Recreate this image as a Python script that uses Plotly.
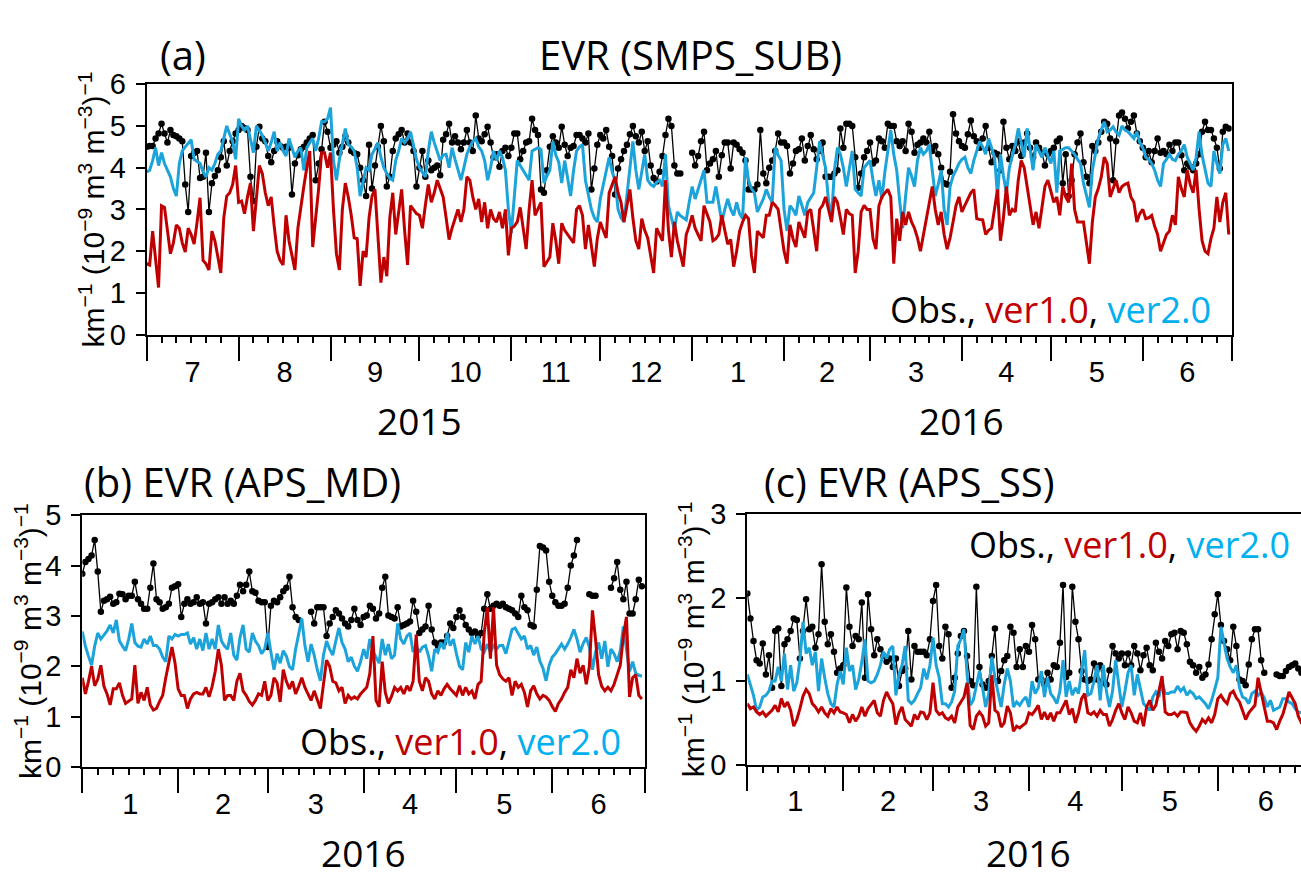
import plotly.graph_objects as go
import pandas as pd

W, H = 1301, 885

# ---------------- data (daily values) ----------------
# Panel (a): 2015-07-01 .. 2016-06-30
start_a = "2015-07-01"
obs_a = [
    4.5, 4.52, 4.52, 4.7, 4.82, 5.05, 4.82, 4.6, 4.9, 4.78,
    4.75, 4.7, 4.63, 3.6, 2.94, 4.28, 4.35, 4.4, 3.75, 3.78,
    4.36, 2.94, 3.63, 3.8, 3.94, 4.25, 4.63, 4.05, 4.4, 4.63,
    4.82, 4.9, 5.0, 4.95, 4.9, 3.78, 3.2, 4.5, 4.98, 4.7,
    4.63, 4.28, 4.13, 4.4, 4.63, 4.52, 4.48, 4.5, 4.48, 3.36,
    4.1, 4.3, 4.44, 4.5, 4.6, 4.7, 4.78, 3.7, 4.1, 4.44,
    5.1, 4.86, 4.48, 4.55, 4.63, 4.36, 4.5, 4.75, 4.6, 4.4,
    4.35, 4.32, 4.0, 3.7, 3.32, 4.55, 3.5, 4.05, 4.5, 5.0,
    4.63, 3.55, 3.78, 4.4, 4.7, 4.8, 4.9, 4.6, 4.82, 4.6,
    4.4, 3.55, 4.0, 4.4, 3.78, 4.17, 3.94, 4.0, 4.05, 3.82,
    4.67, 4.8, 5.05, 4.6, 4.75, 4.6, 4.44, 4.6, 4.9, 4.6,
    4.4, 5.25, 4.7, 4.63, 4.8, 4.98, 4.6, 4.25, 4.32, 4.02,
    4.4, 4.48, 4.28, 4.48, 4.82, 4.82, 4.2, 4.4, 4.6, 4.63,
    5.17, 4.9, 4.78, 3.48, 3.4, 3.94, 4.5, 4.75, 4.6, 4.48,
    4.98, 4.55, 4.28, 4.48, 4.52, 4.78, 4.78, 4.7, 4.6, 4.82,
    3.48, 3.98, 4.55, 4.78, 4.7, 4.9, 4.5, 4.28, 3.36, 3.98,
    4.2, 4.4, 4.55, 4.8, 5.0, 4.75, 4.6, 4.86, 4.4, 4.63,
    4.05, 3.75, 3.67, 3.9, 4.28, 4.78, 5.17, 5.0, 4.05, 3.86,
    3.86, None, None, None, 4.36, 4.05, 4.28, 4.63, 4.86, 3.94,
    4.1, 4.2, 4.4, 3.78, 4.3, 4.6, 4.6, 3.98, 4.6, 4.55,
    4.44, 4.36, 4.17, 3.48, 3.48, 3.48, 3.6, 4.9, 3.86, 3.63,
    4.0, 4.17, 4.4, 4.82, 4.6, 4.6, 4.52, 3.86, 4.1, 4.4,
    4.44, 4.7, 4.17, 4.52, 4.78, 4.44, 4.2, 4.4, 4.6, 3.78,
    3.78, 3.78, 3.86, 3.94, 4.94, 4.48, 5.05, 5.05, 5.0, 4.25,
    3.52, 3.86, 4.25, 4.4, 4.6, 4.1, 4.17, 4.7, 4.63, 4.48,
    5.05, 5.0, 5.0, 4.63, 4.52, 4.63, 4.4, 5.05, 4.86, 4.36,
    4.55, 4.6, 4.7, 4.6, 4.86, 4.4, 4.52, 4.32, 4.0, 3.63,
    3.6, 3.9, 5.28, 4.82, 4.63, 4.52, 4.48, 4.8, 5.13, 4.75,
    4.63, 4.48, 4.7, 5.0, 4.48, 4.13, 4.36, 4.32, 3.94, 5.1,
    4.48, 4.2, 4.52, 4.4, 4.63, 4.28, 4.6, 4.82, 4.48, 4.25,
    4.6, 4.48, 4.36, 4.05, 4.32, 4.4, 4.48, 4.63, 4.7, 3.63,
    4.32, 3.32, 3.7, 4.32, 4.6, 4.82, 4.13, 3.78, 3.63, 4.52,
    4.4, 4.6, 4.86, 5.1, 5.05, 4.7, 3.7, 4.63, 5.25, 5.32,
    5.17, 4.94, 5.1, 5.25, 4.82, 4.63, 4.48, 4.25, 4.4, 4.13,
    4.4, 4.7, 4.36, 4.4, 4.32, 4.55, 4.4, 4.6, 4.6, 4.3,
    3.94, 4.1, 4.02, 3.94, 4.1, 4.32, 4.86, 5.1, 4.9, 4.9,
    4.7, 4.48, 3.98, 4.86, 4.98, 4.94,
]
v1_a = [
    1.7, 1.67, 2.48, 1.8, 1.13, 3.09, 3.05, 2.5, 1.94, 2.2,
    2.63, 2.55, 2.2, 1.98, 2.55, 2.4, 2.17, 2.7, 3.28, 1.78,
    1.7, 1.55, 2.48, 2.25, 1.9, 1.48, 2.8, 3.32, 3.4, 3.6,
    4.05, 3.17, 3.2, 2.9, 3.3, 3.63, 2.48, 3.2, 4.05, 3.86,
    3.4, 3.09, 3.3, 2.6, 2.0, 1.78, 1.67, 2.86, 2.25, 1.9,
    1.55, 2.55, 3.1, 3.55, 4.0, 4.4, 2.1, 2.78, 3.5, 4.36,
    4.36, 4.0, 4.36, 3.0, 1.94, 1.55, 3.0, 3.63, 3.3, 2.86,
    2.32, 2.3, 1.17, 2.0, 1.86, 2.8, 3.32, 3.48, 2.3, 1.25,
    1.86, 1.4, 2.8, 3.4, 2.4, 3.0, 3.48, 2.5, 1.67, 3.09,
    3.0, 2.9, 2.86, 2.55, 3.1, 3.6, 3.17, 3.4, 3.7, 3.5,
    3.3, 2.8, 2.28, 2.55, 2.8, 3.0, 2.7, 3.0, 3.78, 3.7,
    3.3, 3.0, 3.25, 2.7, 3.17, 2.55, 3.0, 2.78, 2.7, 2.94,
    2.55, 3.0, 1.9, 2.55, 2.6, 2.7, 3.05, 2.6, 2.05, 3.0,
    3.7, 2.86, 3.0, 3.17, 1.63, 1.75, 1.86, 2.67, 2.25, 1.7,
    2.67, 2.5, 2.4, 2.3, 2.2, 3.0, 3.09, 2.86, 2.05, 2.63,
    2.1, 1.63, 2.3, 2.7, 2.5, 2.32, 3.4, 3.6, 3.78, 3.4,
    3.17, 2.7, 3.1, 3.48, 2.8, 2.25, 2.05, 2.78, 2.5, 2.32,
    1.9, 1.48, 2.55, 2.4, 2.25, 3.7, 2.5, 1.86, 2.7, 2.25,
    1.9, 1.63, 2.4, 2.6, 2.86, 2.55, 2.4, 2.25, 3.09, 2.9,
    2.7, 2.25, 2.3, 2.4, 2.86, 2.5, 2.17, 2.28, 1.63, 2.0,
    2.48, 2.7, 2.86, 2.78, 1.9, 1.48, 2.48, 2.4, 2.32, 2.86,
    2.86, 3.17, 3.1, 3.0, 2.55, 2.0, 1.7, 2.63, 2.3, 2.1,
    2.7, 2.5, 2.32, 2.94, 3.0, 2.5, 2.0, 3.0, 3.1, 3.3,
    3.0, 2.7, 3.3, 3.17, 2.8, 2.4, 3.0, 2.9, 2.86, 1.48,
    2.0, 2.94, 3.1, 3.0, 3.0, 2.3, 2.05, 3.09, 3.3, 3.4,
    3.48, 3.3, 1.7, 2.78, 2.25, 2.94, 2.63, 2.94, 2.7, 2.55,
    2.32, 2.0, 2.4, 2.78, 3.17, 3.55, 3.0, 2.63, 2.94, 2.4,
    2.05, 2.32, 2.7, 3.09, 3.3, 2.94, 3.1, 3.25, 3.4, 3.48,
    2.78, 2.76, 2.75, 2.4, 2.5, 2.55, 3.0, 3.48, 2.25, 2.8,
    3.55, 2.86, 3.0, 2.94, 3.7, 4.17, 4.0, 3.5, 3.09, 2.63,
    2.94, 2.55, 3.0, 3.55, 3.7, 3.4, 3.17, 3.3, 2.86, 3.55,
    3.3, 3.17, 4.1, 3.0, 2.7, 2.7, 2.7, 2.2, 1.7, 2.7,
    3.3, 3.5, 3.78, 4.25, 4.1, 3.3, 3.5, 3.7, 3.4, 3.55,
    3.6, 3.63, 3.3, 3.17, 2.7, 2.9, 3.0, 2.78, 2.8, 2.86,
    2.6, 2.4, 2.0, 2.2, 2.4, 2.48, 2.86, 2.63, 3.78, 3.5,
    3.3, 3.94, 3.6, 3.4, 3.94, 3.0, 2.25, 2.0, 1.94, 2.3,
    2.55, 3.3, 2.7, 3.17, 3.4, 2.4,
]
v2_a = [
    3.9, 3.94, 4.17, 4.48, 4.05, 4.36, 4.1, 3.94, 3.78, 3.5,
    3.32, 4.1, 4.4, 4.5, 4.6, 4.67, 4.2, 4.15, 4.1, 3.9,
    3.78, 4.0, 3.94, 4.1, 4.32, 4.4, 4.7, 5.0, 4.8, 4.63,
    4.2, 5.17, 5.0, 4.9, 5.0, 4.7, 4.36, 5.0, 4.9, 4.78,
    4.6, 4.4, 4.6, 4.86, 4.4, 4.6, 4.4, 4.28, 4.7, 4.5,
    4.25, 4.4, 4.48, 3.94, 4.48, 4.6, 4.7, 4.4, 4.7, 5.1,
    5.1, 5.17, 5.44, 4.17, 3.7, 4.2, 4.55, 4.94, 4.55, 4.5,
    4.4, 4.0, 3.32, 3.7, 4.0, 3.94, 4.32, 4.45, 4.6, 4.25,
    4.0, 3.86, 3.75, 3.7, 4.17, 4.4, 4.7, 4.6, 4.7, 4.86,
    4.5, 4.2, 4.0, 3.9, 3.78, 4.4, 4.86, 4.6, 4.4, 4.17,
    4.3, 4.32, 4.0, 4.48, 4.2, 3.94, 3.7, 4.0, 4.32, 4.5,
    4.63, 4.7, 4.5, 4.4, 4.17, 3.7, 4.0, 4.4, 4.17, 4.4,
    4.25, 3.94, 3.0, 2.44, 3.32, 4.17, 4.05, 3.94, 3.8, 3.7,
    4.4, 4.45, 4.48, 4.44, 3.63, 3.8, 3.94, 4.63, 4.3, 4.13,
    3.63, 4.17, 3.7, 3.32, 3.94, 4.4, 4.5, 4.55, 3.7, 3.3,
    3.0, 2.8, 2.7, 3.25, 3.6, 3.94, 4.25, 3.9, 3.7, 3.0,
    2.8, 2.7, 3.32, 4.0, 4.63, 3.94, 3.48, 3.9, 4.32, 3.7,
    3.6, 3.55, 3.65, 3.7, 3.55, 4.32, 3.09, 2.8, 2.52, 2.94,
    2.85, 2.8, 2.75, 3.17, 3.55, 3.25, 3.5, 3.7, 3.94, 3.17,
    3.17, 3.17, 3.55, 3.1, 2.7, 3.0, 3.25, 3.0, 2.86, 3.17,
    2.9, 2.78, 4.25, 3.7, 3.5, 3.4, 2.94, 3.1, 3.25, 3.48,
    3.3, 3.17, 4.48, 4.3, 4.17, 3.0, 2.48, 3.09, 3.0, 2.86,
    3.32, 3.1, 2.86, 3.17, 3.3, 3.4, 4.0, 4.63, 4.3, 4.0,
    3.2, 2.78, 3.94, 4.48, 4.32, 4.0, 3.55, 4.0, 4.4, 3.48,
    3.4, 3.32, 4.0, 4.1, 4.17, 3.7, 3.32, 3.7, 3.25, 3.9,
    4.4, 4.9, 4.32, 3.94, 3.2, 2.55, 3.32, 4.0, 3.8, 3.55,
    4.17, 4.48, 4.32, 4.4, 4.55, 4.0, 3.32, 3.6, 3.94, 3.0,
    2.63, 3.55, 3.8, 3.94, 4.1, 4.2, 4.25, 4.0, 3.86, 4.17,
    4.4, 4.63, 4.5, 4.32, 4.7, 4.5, 4.25, 3.32, 4.32, 3.8,
    3.4, 4.0, 4.3, 4.55, 4.94, 4.6, 4.25, 4.94, 4.4, 3.94,
    4.55, 4.4, 4.25, 4.48, 4.3, 4.1, 4.4, 3.4, 4.4, 4.45,
    4.48, 4.48, 4.4, 4.32, 4.2, 4.1, 3.63, 3.3, 3.05, 3.94,
    4.3, 4.7, 4.9, 5.1, 4.86, 4.9, 4.98, 4.85, 4.78, 5.0,
    4.9, 4.86, 4.78, 4.7, 4.86, 4.6, 4.48, 4.25, 4.2, 4.1,
    3.94, 3.7, 3.55, 4.1, 4.2, 4.32, 4.2, 4.17, 4.32, 4.4,
    4.55, 4.25, 4.1, 3.94, 4.25, 4.86, 4.3, 3.94, 3.63, 3.55,
    4.4, 4.1, 3.86, 4.55, 4.7, 4.4,
]

# Panel (b): 2016-01-01 .. 2016-06-30
start_b = "2016-01-01"
obs_b = [
    3.84, 4.07, 4.13, 4.2, 4.51, 3.88, 3.08, 3.3, 3.33, 3.38,
    3.24, 3.27, 3.44, 3.43, 3.33, 3.4, 3.4, 3.68, 3.33, 3.24,
    3.14, 3.14, 3.56, 4.04, 3.33, 3.27, 3.14, 3.17, 3.24, 3.56,
    3.59, 3.63, 2.98, 3.24, 3.33, 3.24, 3.27, 3.37, 3.24, 3.27,
    2.85, 3.24, 3.27, 3.33, 3.37, 3.24, 3.37, 3.24, 3.3, 3.24,
    3.4, 3.62, 3.49, 3.62, 3.88, 3.49, 3.46, 3.3, 3.27, 3.27,
    2.38, 3.2, 3.3, 3.27, 3.37, 3.49, 3.56, 3.78, 3.17, 2.98,
    2.92, None, None, None, 3.08, 2.85, 3.17, 3.17, 3.17, 2.6,
    2.85, 2.98, 3.11, 3.05, 2.95, 2.85, 2.79, 2.92, 3.14, 2.92,
    2.82, 2.98, 3.01, 3.2, 3.14, 2.95, 3.05, 3.56, 3.78, 3.01,
    2.98, 2.95, 3.17, 2.79, 2.82, 2.85, 2.89, 3.3, 3.08, 2.66,
    2.73, 2.79, 3.2, 2.73, 2.47, 2.41, 2.47, 2.47, 2.6, 2.85,
    2.76, 2.98, 3.11, 2.98, 2.82, 2.73, 2.66, 2.69, 2.6, 2.66,
    3.14, 3.43, 3.14, 3.2, 3.24, 3.2, 3.24, 3.17, 3.14, 3.11,
    3.05, 2.98, 3.4, 3.17, 3.11, 2.82, 2.79, 3.52, 4.39, 4.36,
    4.3, 3.68, 3.4, 3.27, 3.2, 3.2, 3.24, 3.56, 4.0, 4.2,
    4.51, None, None, None, 3.43, 3.4, 3.4, None, None, None,
    None, 3.56, 3.75, 4.07, 3.52, 3.33, 3.68, 3.05, 3.05, 3.33,
    3.72, 3.59,
]
v1_b = [
    1.77, 1.45, 1.7, 2.0, 1.61, 1.74, 2.02, 1.6, 1.45, 1.23,
    1.55, 1.55, 1.67, 1.42, 1.26, 1.3, 1.35, 2.02, 1.26, 1.48,
    1.32, 1.58, 1.23, 1.13, 1.16, 1.3, 1.42, 1.77, 2.1, 2.38,
    2.06, 1.55, 1.42, 1.42, 1.16, 1.35, 1.45, 1.48, 1.45, 1.45,
    1.58, 1.39, 1.6, 1.9, 2.34, 2.02, 1.32, 1.42, 1.42, 1.32,
    1.7, 1.86, 1.51, 1.42, 1.3, 1.23, 1.32, 1.45, 1.42, 1.7,
    1.32, 1.42, 1.77, 1.67, 1.29, 1.93, 1.7, 1.55, 1.7, 1.45,
    1.6, 1.77, 1.58, 1.45, 1.32, 1.51, 1.32, 1.16, 1.64, 2.12,
    2.0, 1.7, 1.67, 1.51, 1.58, 1.26, 1.42, 1.35, 1.39, 1.35,
    1.45, 1.51, 1.58, 1.86, 2.6, 1.32, 1.19, 2.09, 1.48, 1.26,
    1.4, 1.58, 1.51, 1.58, 1.45, 1.61, 1.51, 1.7, 2.63, 1.7,
    1.51, 1.77, 1.7, 1.45, 1.35, 1.51, 1.42, 1.55, 1.64, 1.55,
    1.48, 1.42, 1.61, 1.42, 1.58, 1.45, 1.51, 1.35, 1.64, 1.7,
    2.66, 3.17, 2.15, 3.17, 2.02, 1.83, 1.75, 1.7, 1.77, 1.42,
    1.7, 1.58, 1.64, 1.48, 1.19, 1.51, 1.61, 1.45, 1.35, 1.42,
    1.39, 1.32, 1.2, 1.1, 1.26, 1.35, 1.48, 1.58, 1.93, 1.77,
    2.15, 1.86, 2.02, 1.64, 1.99, 3.11, 2.54, 1.83, 1.6, 1.51,
    1.58, 1.51, 1.64, 1.83, 2.02, 2.6, 2.98, 1.39, 1.77, 1.83,
    1.42, 1.35,
]
v2_b = [
    2.69, 2.4, 2.2, 2.02, 2.4, 2.66, 2.54, 2.63, 2.7, 2.82,
    2.66, 2.92, 2.5, 2.4, 2.31, 2.54, 2.85, 2.47, 2.4, 2.38,
    2.54, 2.44, 2.6, 2.41, 2.41, 2.34, 2.18, 2.09, 2.6, 2.54,
    2.63, 2.6, 2.63, 2.63, 2.66, 2.44, 2.57, 2.34, 2.54, 2.31,
    2.66, 2.34, 2.54, 2.34, 2.82, 2.5, 2.4, 2.34, 2.66, 2.22,
    2.12, 2.57, 2.82, 2.34, 2.28, 2.66, 2.5, 2.41, 2.25, 2.34,
    2.66, 2.28, 1.93, 2.25, 2.06, 2.31, 2.2, 1.99, 1.93, 2.34,
    2.66, 2.95, 2.41, 2.09, 2.44, 2.22, 1.93, 1.71, 2.22, 2.5,
    2.34, 2.22, 2.5, 2.76, 2.47, 2.34, 2.09, 2.18, 2.0, 1.9,
    2.09, 2.34, 2.15, 2.54, 2.3, 2.18, 2.06, 2.54, 2.22, 2.44,
    2.15, 2.22, 2.85, 2.54, 2.44, 2.6, 2.66, 2.28, 2.41, 2.28,
    2.38, 2.41, 2.2, 1.9, 2.34, 2.28, 2.47, 2.34, 2.66, 2.41,
    2.54, 2.25, 2.0, 1.93, 2.47, 2.28, 2.6, 2.44, 2.6, 2.34,
    2.28, 2.44, 2.28, 2.41, 2.34, 2.41, 2.41, 2.25, 2.47, 2.73,
    2.76, 2.66, 2.54, 2.6, 2.34, 2.41, 2.22, 2.38, 2.1, 1.96,
    1.71, 2.02, 2.18, 2.25, 2.34, 2.44, 2.34, 2.44, 2.57, 2.73,
    2.54, 2.28, 2.45, 2.57, 2.38, 1.93, 2.28, 2.47, 2.15, 2.5,
    1.99, 2.34, 2.25, 2.09, 2.31, 2.79, 2.34, 1.9, 2.09, 1.86,
    1.82, 1.8,
]

# Panel (c): 2016-01-01 .. 2016-06-30 (picture is cut at the right edge)
start_c = "2016-01-01"
obs_c = [
    2.05, 1.75, 1.48, 1.25, 1.21, 1.45, 1.08, 1.31, 0.92, 1.6,
    1.63, 0.94, 1.44, 1.5, 1.6, 1.75, 1.73, 1.27, 1.6, 1.98,
    1.62, 1.65, 1.4, 1.56, 2.4, 1.71, 1.44, 1.56, 1.35, 1.1,
    1.15, 1.19, 2.12, 1.65, 1.42, 1.54, 1.5, 1.94, 1.04, 2.04,
    1.62, 1.31, 1.5, 1.38, 1.3, 1.23, 1.27, 1.17, 1.27, 0.94,
    1.12, 1.15, 1.6, 1.02, 1.42, 1.35, 1.35, 1.35, 1.31, 1.5,
    1.96, 2.15, 1.42, 1.27, 1.65, 1.56, 0.92, 1.04, 1.33, 1.54,
    1.6, 1.3, 1.0, 0.95, 2.13, 1.17, 0.96, 0.92, 1.0, 1.3,
    1.63, 1.0, 1.12, 1.25, 1.3, 1.65, 1.58, 1.17, 1.38, 1.17,
    1.42, 1.35, 1.67, 1.5, 1.02, 1.02, 0.96, 1.1, 1.02, 1.19,
    1.17, 1.46, 2.15, 1.05, 1.1, 2.13, 1.71, 1.5, 1.12, 1.02,
    1.0, 1.02, 1.21, 1.02, 1.19, 1.0, 0.96, 1.13, 1.42, 1.33,
    1.27, 1.33, 1.19, 1.33, 1.19, 1.42, 1.33, 1.13, 1.31, 1.4,
    1.19, 1.13, 1.46, 1.35, 1.27, 1.48, 1.42, 1.56, 1.58, 1.38,
    1.6, 1.58, 1.44, 1.23, 1.19, 1.1, 1.17, 1.04, 1.08, 1.2,
    1.5, 1.8, 2.04, 1.67, 1.48, 1.38, 1.25, 1.65, 1.42, 1.02,
    1.0, 0.95, 1.2, 1.5, 1.62, 1.62, 1.25, 1.1, None, None,
    None, 1.08, 1.06, 1.06, 1.12, 1.17, 1.19, 1.21, 1.15, 1.1,
    1.1, 1.1,
]
v1_c = [
    0.73, 0.67, 0.69, 0.63, 0.6, 0.63, 0.58, 0.62, 0.65, 0.71,
    0.63, 0.79, 0.69, 0.75, 0.65, 0.46, 0.54, 0.67, 0.82, 0.9,
    0.85, 0.73, 0.69, 0.63, 0.69, 0.62, 0.58, 0.67, 0.62, 0.69,
    0.63, 0.62, 0.6, 0.5, 0.6, 0.52, 0.58, 0.69, 0.58, 0.67,
    0.72, 0.77, 0.62, 0.58, 0.77, 0.87, 0.79, 0.73, 0.48, 0.62,
    0.69, 0.54, 0.5, 0.46, 0.6, 0.54, 0.63, 0.62, 0.54, 0.62,
    0.98, 0.65, 0.6, 0.62, 0.56, 0.54, 0.58, 0.5, 0.69, 0.75,
    0.81, 0.98, 0.47, 0.42, 0.58, 0.63, 0.58, 0.46, 0.5, 1.07,
    0.65, 0.62, 0.45, 0.5, 0.7, 0.62, 0.4, 0.46, 0.44, 0.47,
    0.5, 0.62, 0.6, 0.65, 0.71, 0.54, 0.63, 0.54, 0.62, 0.52,
    0.62, 0.62, 0.69, 0.77, 0.6, 0.67, 0.5, 0.62, 0.79, 0.85,
    0.62, 0.6, 0.63, 0.58, 0.65, 0.6, 0.6, 0.46, 0.54, 0.65,
    0.73, 0.62, 0.54, 0.69, 0.62, 0.52, 0.5, 0.62, 0.46, 0.69,
    0.77, 0.65, 0.71, 0.9, 1.06, 0.63, 0.6, 0.6, 0.62, 0.58,
    0.63, 0.63, 0.62, 0.5, 0.44, 0.4, 0.46, 0.54, 0.5, 0.56,
    0.5, 0.6, 0.79, 0.83, 0.77, 0.73, 0.85, 0.88, 0.8, 0.75,
    0.63, 0.54, 0.62, 0.67, 0.71, 1.04, 0.88, 0.69, 0.52, 0.52,
    0.5, 0.42, 0.52, 0.6, 0.73, 0.87, 0.8, 0.73, 0.58, 0.5,
    0.5, 0.5,
]
v2_c = [
    1.08, 0.95, 0.83, 0.65, 0.69, 0.81, 0.83, 0.88, 1.0, 1.0,
    1.17, 1.0, 1.33, 0.9, 1.19, 0.88, 0.98, 1.25, 1.71, 1.33,
    1.4, 1.19, 1.35, 0.88, 1.27, 1.04, 0.85, 0.73, 0.69, 0.96,
    1.12, 0.96, 1.4, 1.12, 1.19, 0.9, 1.02, 1.23, 1.5, 1.0,
    0.98, 1.0, 1.08, 1.19, 1.35, 1.27, 1.38, 1.42, 0.83, 1.08,
    1.19, 1.42, 0.77, 0.73, 0.77, 0.85, 0.92, 1.15, 1.02, 1.19,
    1.52, 1.19, 1.04, 0.73, 0.73, 0.69, 0.75, 0.88, 1.42, 1.5,
    1.62, 1.08, 0.71, 0.77, 0.96, 1.12, 0.92, 0.69, 0.85, 1.29,
    1.04, 0.85, 0.69, 0.96, 1.15, 1.0, 0.69, 0.75, 0.71, 0.77,
    0.81, 0.69, 1.0, 0.85, 0.92, 1.12, 0.81, 1.04, 0.85, 0.8,
    0.73, 0.88, 1.25, 0.81, 1.0, 0.83, 0.92, 0.85, 1.1, 1.37,
    0.83, 0.85, 1.0, 1.19, 0.77, 1.19, 0.88, 0.69, 0.88, 1.25,
    0.96, 0.69, 0.88, 1.1, 1.19, 0.83, 1.08, 0.9, 0.73, 0.69,
    0.65, 0.81, 0.87, 0.81, 1.0, 0.85, 0.85, 0.87, 0.87, 0.94,
    0.88, 0.92, 0.83, 0.88, 0.85, 0.79, 0.81, 0.77, 0.73, 0.67,
    0.77, 0.9, 1.04, 1.65, 1.46, 1.27, 1.17, 1.1, 1.19, 0.92,
    0.81, 0.79, 0.73, 0.85, 0.88, 0.83, 0.87, 0.8, 0.69, 0.77,
    0.65, 0.67, 0.69, 0.79, 0.79, 0.75, 0.73, 0.67, 0.63, 0.62,
    0.62, 0.62,
]

# ---------------- styling ----------------
RED = "#C00000"
BLUE_LINE = "#1CA3DA"
BLUE_TEXT = "#00B0F0"
TICK_FONT = dict(family="Liberation Sans, Arial, sans-serif", size=29, color="black")
TEXT_FONT = "Open Sans, Lato, sans-serif"


def px(x):
    return x / W


def py(y):
    return 1 - y / H


def dates(start, n):
    return pd.date_range(start, periods=n, freq="D")


def minor_ticks(start, end):
    vals = []
    for m in pd.date_range(start, end, freq="MS"):
        for d in (5, 10, 15, 20, 25):
            vals.append(m + pd.Timedelta(days=d))
    return vals


fig = go.Figure()

panels = [
    ("x", "y", start_a, obs_a, v1_a, v2_a),
    ("x2", "y2", start_b, obs_b, v1_b, v2_b),
    ("x3", "y3", start_c, obs_c, v1_c, v2_c),
]
for xa, ya, st, obs, v1, v2 in panels:
    fig.add_trace(go.Scatter(x=dates(st, len(obs)), y=obs, mode="lines+markers",
                             line=dict(color="black", width=1.3),
                             marker=dict(color="black", size=6.5),
                             xaxis=xa, yaxis=ya, showlegend=False, hoverinfo="skip"))
    fig.add_trace(go.Scatter(x=dates(st, len(v2)), y=v2, mode="lines",
                             line=dict(color=BLUE_LINE, width=3),
                             xaxis=xa, yaxis=ya, showlegend=False, hoverinfo="skip"))
    fig.add_trace(go.Scatter(x=dates(st, len(v1)), y=v1, mode="lines",
                             line=dict(color=RED, width=3),
                             xaxis=xa, yaxis=ya, showlegend=False, hoverinfo="skip"))


def xaxis(domain, rng, anchor):
    return dict(domain=domain, range=rng, anchor=anchor, type="date",
                showline=True, linecolor="black", linewidth=2, mirror=True,
                ticks="outside", ticklen=24, tickwidth=1.5, tickcolor="black",
                tickmode="linear", tick0="2015-07-01", dtick="M1",
                tickformat="%-m", ticklabelmode="period", ticklabelstandoff=-14,
                showgrid=False, zeroline=False, tickfont=TICK_FONT,
                minor=dict(tickmode="array", tickvals=minor_ticks(rng[0][:10], rng[1][:10]),
                           ticks="outside", ticklen=6, tickwidth=1.5,
                           tickcolor="black", showgrid=False))


def yaxis(domain, top, anchor, mirror=True):
    return dict(domain=domain, range=[0, top], anchor=anchor,
                showline=True, linecolor="black", linewidth=2, mirror=mirror,
                ticks="outside", ticklen=9, tickwidth=2, tickcolor="black",
                tickmode="linear", tick0=0, dtick=1,
                showgrid=False, zeroline=False, tickfont=TICK_FONT,
                ticklabelstandoff=4)


fig.update_layout(
    width=W, height=H, autosize=False,
    margin=dict(l=0, r=0, t=0, b=0),
    paper_bgcolor="white", plot_bgcolor="white",
    showlegend=False,
    xaxis=xaxis([px(146.7), px(1231.7)], ["2015-07-01", "2016-07-01"], "y"),
    yaxis=yaxis([py(330.7), py(70.7)], 6, "x"),
    xaxis2=xaxis([px(82.3), px(645)], ["2016-01-01", "2016-07-01"], "y2"),
    yaxis2=yaxis([py(779), py(518)], 5, "x2"),
    xaxis3=xaxis([px(747.3), 1.0], ["2016-01-01", "2016-06-27 21:00"], "y3"),
    yaxis3=yaxis([py(776.7), py(516.7)], 3, "x3", mirror=False),
)

ytitle = "km<sup>\u22121</sup> (10<sup>\u22129</sup> m<sup>3</sup> m<sup>\u22123</sup>)<sup>\u22121</sup>"
legend_txt = ("Obs., <span style='color:%s'>ver1.0</span>, "
              "<span style='color:%s'>ver2.0</span>") % (RED, BLUE_TEXT)

ann = []


def add_text(text, x, y, size, xanchor="center", xref="paper", angle=0, family=TEXT_FONT):
    ann.append(dict(text=text, x=x, y=y, xref=xref, yref="paper",
                    xanchor=xanchor, yanchor="middle", showarrow=False,
                    textangle=angle, font=dict(family=family, size=size, color="black")))


# panel titles
add_text("(a)", px(183), py(40), 40)
add_text("EVR (SMPS_SUB)", px(690), py(40), 40)
add_text("(b) EVR (APS_MD)", px(82), py(483), 40, xanchor="left")
add_text("(c) EVR (APS_SS)", px(762), py(483), 40, xanchor="left")
# year labels
add_text("2015", "2015-10-01", py(420), 37, xref="x")
add_text("2016", "2016-04-01", py(420), 37, xref="x")
add_text("2016", "2016-04-01", py(868), 37, xref="x2")
add_text("2016", "2016-04-01", py(868), 37, xref="x3")
# legends
add_text(legend_txt, px(1213), py(305), 36, xanchor="right")
add_text(legend_txt, px(623), py(753), 36, xanchor="right")
add_text(legend_txt, px(967), py(548), 36, xanchor="left")
# y-axis titles
yfam = "Liberation Sans, Arial, sans-serif"
add_text(ytitle, px(92), py(200.7), 30, angle=-90, family=yfam)
add_text(ytitle, px(28), py(648.5), 30, angle=-90, family=yfam)
add_text(ytitle, px(692), py(646.7), 30, angle=-90, family=yfam)

fig.update_layout(annotations=ann)

fig.write_html("out.html")
